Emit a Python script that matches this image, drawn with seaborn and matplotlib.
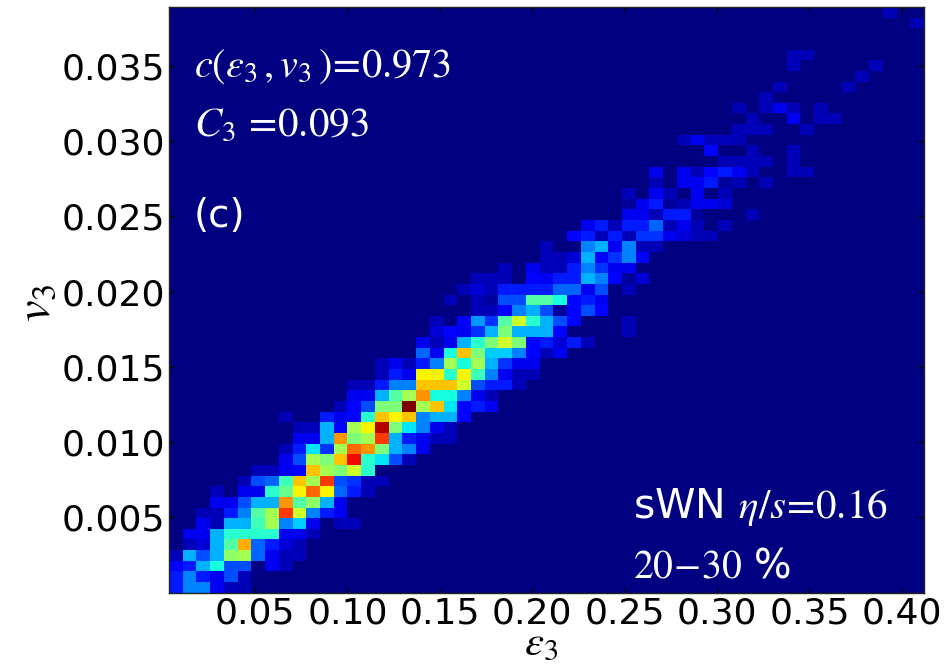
import matplotlib.pyplot as plt
import numpy as np
import pandas as pd
import seaborn as sns

# 2D histogram, bottom row first.
# first_bin[i] = column of the first listed cell in row i, the rest of the row is empty
first_bin = [0, 0, 0, 0, 1, 1, 2, 2, 3, 3, 5, 6, 8, 8, 9, 9, 8, 12, 13, 13,
             15, 15, 18, 18, 19, 19, 22, 20, 21, 22, 24, 27, 27, 29, 30, 33,
             33, 33, 35, 35, 40, 39, 37, 41, 42, 41, 43, 44, 50, 45, 45, 0, 0, 54, 52]
bin_counts = [
    [3, 5, 5, 2, 1, 1],
    [3, 5, 3, 2, 4, 1],
    [2.5, 3, 6, 7.5, 4, 4, 0, 2, 1],
    [1, 6, 4, 6, 10.5, 11, 4.5, 2, 1, 1],
    [1, 1.5, 6, 9, 14.5, 4.5, 3, 1.5, 1],
    [2, 2, 6, 8, 8, 8, 8, 2, 2, 1],
    [2, 1, 6, 6, 8.5, 11, 5, 6.5, 2, 0, 1, 1],
    [1, 1, 3, 5, 9, 11, 17, 12, 5, 3, 2],
    [2, 2, 4, 6, 6, 15, 9, 10.5, 6, 2],
    [1, 0, 2, 2, 8, 9.5, 13, 16, 13, 4.5, 3, 1],
    [1, 4, 4.5, 8.5, 14, 11, 17, 4, 3.5, 1, 1],
    [1, 1, 2, 2.5, 14, 11, 10, 12, 8],
    [2, 4, 11, 10, 14, 18, 8, 7, 4, 1],
    [1, 3, 7, 3.5, 11, 16, 15, 10, 6, 5, 2],
    [2, 2, 6, 15, 10, 11, 17, 6, 3, 2, 1, 1],
    [1, 1, 6, 2.5, 11, 13, 19, 10, 7, 5, 2, 1],
    [1, 0, 0, 3, 2, 2.5, 8, 14, 13, 14, 5, 6, 6, 2.5],
    [1, 2.5, 4, 10, 10, 20, 11, 14, 7, 2.5, 3, 2],
    [2, 2, 6, 9, 11, 15, 7.5, 7.5, 5, 2, 1],
    [1, 1, 3, 5, 5, 14, 14, 14, 12, 4, 3, 3, 1],
    [1, 3, 2, 13, 13, 8, 13, 8.5, 5, 2, 1, 1],
    [1, 2, 1, 3, 5, 11, 7.5, 11, 6, 3.5, 2, 2],
    [4.5, 2, 7.5, 14, 10, 6.5, 6.5, 5, 2.5, 1, 2],
    [2, 1, 2, 6, 8, 10, 12, 10, 2.5, 3, 1.5, 3, 1],
    [1.5, 2.5, 2, 3.5, 6, 10, 6, 6, 6, 2.5, 0, 0, 0, 0, 1],
    [1, 0, 2.5, 5.5, 3.5, 9, 12, 8, 6, 4, 2.5, 0, 0, 0, 1],
    [1, 1, 2.5, 5, 6, 4, 0.5, 2.5, 4, 2.5],
    [1, 0, 1, 0.5, 4, 4, 9, 9, 7.5, 2.5, 3, 2],
    [1, 1.5, 1, 3, 3, 3, 3, 4.5, 4.5, 2, 4, 0, 1],
    [1, 1, 1, 0, 2.5, 2, 3, 3, 6, 5, 2.5, 0.5, 1.5],
    [1, 0, 2, 1, 1, 3, 5, 3.5, 2, 2],
    [1, 1, 1.5, 6, 2.5, 3.5, 5, 2.5],
    [1, 0, 0, 5, 6, 2, 5, 1, 1],
    [2.5, 3, 1, 3, 1, 3.5, 3.5, 2, 1.5, 1, 1],
    [2, 3, 1, 3, 3, 4.5, 1, 2, 1, 0, 1],
    [2, 2, 1, 3, 3, 0.5, 0, 0, 0, 1],
    [0.5, 2, 3, 0.5, 1, 2, 2, 1.5],
    [1, 0, 2, 1, 0, 2, 0, 1],
    [1, 0, 2, 2, 3, 0.5, 1, 0, 1],
    [2, 0, 2, 1, 2.5, 3, 2, 1, 0, 0, 1, 1],
    [1, 1, 1, 1, 0, 1],
    [2.5, 0, 0, 1, 0, 0, 1],
    [1, 2, 1, 1, 1],
    [1, 1, 1, 0, 0, 1],
    [1, 0, 0, 2, 0, 1, 1],
    [1, 0, 1, 2, 1, 0, 1],
    [1],
    [1, 0, 0, 0, 0, 1],
    [1],
    [1, 0, 0, 0, 0, 0, 1],
    [1, 1],
    [],
    [],
    [1],
    [1],
]

x_ticks = [0.05, 0.10, 0.15, 0.20, 0.25, 0.30, 0.35, 0.40]
y_ticks = [0.005, 0.010, 0.015, 0.020, 0.025, 0.030, 0.035]
x_range = (0.00346, 0.4120)
y_range = (0.0000, 0.0389)
n_bins = 55

# fill the full grid
grid = np.zeros((n_bins, n_bins))
for i, row in enumerate(bin_counts):
    grid[i, first_bin[i]:first_bin[i] + len(row)] = row
df = pd.DataFrame(grid)

plt.rcParams['mathtext.fontset'] = 'stix'

fig = plt.figure(figsize=(9.51, 6.64), dpi=100)
ax = fig.add_axes([169 / 951, 1 - 592.7 / 664, 755 / 951, 585.7 / 664])

sns.heatmap(df, cmap='jet', vmin=0, vmax=20, cbar=False, ax=ax, square=False,
            xticklabels=False, yticklabels=False, linewidths=0, rasterized=True)
ax.set_xlim(0, n_bins)
ax.set_ylim(0, n_bins)

# heatmap works in bin units, so put the ticks through the value ranges
x_pos = [(v - x_range[0]) / (x_range[1] - x_range[0]) * n_bins for v in x_ticks]
y_pos = [(v - y_range[0]) / (y_range[1] - y_range[0]) * n_bins for v in y_ticks]
ax.set_xticks(x_pos)
ax.set_xticklabels([f'{v:.2f}' for v in x_ticks], rotation=0)
ax.set_yticks(y_pos)
ax.set_yticklabels([f'{v:.3f}' for v in y_ticks], rotation=0)
ax.tick_params(axis='both', direction='in', length=3.6, width=1, labelsize=26,
               top=True, right=True, color='black', pad=3)

for spine in ax.spines.values():
    spine.set_visible(True)
    spine.set_color('#222222')
    spine.set_linewidth(1)

fig.text(541 / 951, 1 / 664, r'$\varepsilon_3$', fontsize=31, ha='center', va='bottom')
fig.text(35 / 951, 1 - 303 / 664, r'$v_3$', fontsize=35, rotation=90, ha='center', va='center')

ax.text(0.033, 0.9, r'$c(\varepsilon_3\,,v_3\,)\!=\!0.973$', color='white', fontsize=29,
        transform=ax.transAxes, va='center')
ax.text(0.033, 0.8, r'$C_3\,=\!0.093$', color='white', fontsize=29.5,
        transform=ax.transAxes, va='center')
ax.text(0.033, 0.643, '(c)', color='white', fontsize=28,
        transform=ax.transAxes, va='center')
ax.text(0.614, 0.147, r'sWN $\eta/s\!=\!0.16$', color='white', fontsize=29.5,
        transform=ax.transAxes, va='center')
ax.text(0.614, 0.045, r'$20\!-\!30$ %', color='white', fontsize=28.5,
        transform=ax.transAxes, va='center')

fig.savefig('out.png', dpi=100)
